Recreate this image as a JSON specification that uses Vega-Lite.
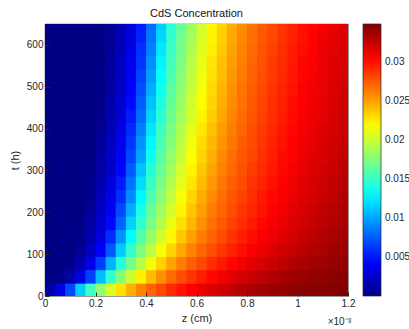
{
"$schema":"https://vega.github.io/schema/vega-lite/v6.json",
"width":303,"height":272,
"autosize":"none",
"padding":{"left":45,"top":24,"right":61,"bottom":33},
"config":{"font":"Liberation Sans","view":{"stroke":"#262626","strokeWidth":0.7},
"axis":{"domain":false,"grid":false,"labelFontSize":10,"labelColor":"#262626","titleFontSize":11,"titleFontWeight":"normal","titleColor":"#262626","tickColor":"#262626","tickSize":-4,"labelPadding":6,"labelFlush":false}},
"title":{"text":"CdS Concentration","fontSize":11,"fontWeight":"normal","color":"#111","offset":5},
"datasets":{"grid":[
{"z":0.02,"t":16,"c":0.0013},{"z":0.06,"t":16,"c":0.0034},{"z":0.10,"t":16,"c":0.0068},{"z":0.14,"t":16,"c":0.0113},{"z":0.18,"t":16,"c":0.0152},{"z":0.22,"t":16,"c":0.0180},{"z":0.26,"t":16,"c":0.0204},{"z":0.30,"t":16,"c":0.0227},{"z":0.34,"t":16,"c":0.0244},{"z":0.38,"t":16,"c":0.0260},{"z":0.42,"t":16,"c":0.0271},{"z":0.46,"t":16,"c":0.0280},{"z":0.50,"t":16,"c":0.0290},{"z":0.54,"t":16,"c":0.0298},{"z":0.58,"t":16,"c":0.0305},{"z":0.62,"t":16,"c":0.0311},{"z":0.66,"t":16,"c":0.0316},{"z":0.70,"t":16,"c":0.0321},{"z":0.74,"t":16,"c":0.0326},{"z":0.78,"t":16,"c":0.0330},{"z":0.82,"t":16,"c":0.0334},{"z":0.86,"t":16,"c":0.0336},{"z":0.90,"t":16,"c":0.0339},{"z":0.94,"t":16,"c":0.0340},{"z":0.98,"t":16,"c":0.0342},{"z":1.02,"t":16,"c":0.0344},{"z":1.06,"t":16,"c":0.0345},{"z":1.10,"t":16,"c":0.0345},{"z":1.14,"t":16,"c":0.0346},{"z":1.18,"t":16,"c":0.0347},
{"z":0.02,"t":48,"c":0},{"z":0.06,"t":48,"c":0.0001},{"z":0.10,"t":48,"c":0.0013},{"z":0.14,"t":48,"c":0.0033},{"z":0.18,"t":48,"c":0.0065},{"z":0.22,"t":48,"c":0.0108},{"z":0.26,"t":48,"c":0.0148},{"z":0.30,"t":48,"c":0.0176},{"z":0.34,"t":48,"c":0.0200},{"z":0.38,"t":48,"c":0.0222},{"z":0.42,"t":48,"c":0.0240},{"z":0.46,"t":48,"c":0.0256},{"z":0.50,"t":48,"c":0.0268},{"z":0.54,"t":48,"c":0.0278},{"z":0.58,"t":48,"c":0.0287},{"z":0.62,"t":48,"c":0.0295},{"z":0.66,"t":48,"c":0.0302},{"z":0.70,"t":48,"c":0.0308},{"z":0.74,"t":48,"c":0.0314},{"z":0.78,"t":48,"c":0.0319},{"z":0.82,"t":48,"c":0.0323},{"z":0.86,"t":48,"c":0.0328},{"z":0.90,"t":48,"c":0.0332},{"z":0.94,"t":48,"c":0.0335},{"z":0.98,"t":48,"c":0.0337},{"z":1.02,"t":48,"c":0.0339},{"z":1.06,"t":48,"c":0.0341},{"z":1.10,"t":48,"c":0.0342},{"z":1.14,"t":48,"c":0.0344},{"z":1.18,"t":48,"c":0.0345},
{"z":0.02,"t":80,"c":0},{"z":0.06,"t":80,"c":0},{"z":0.10,"t":80,"c":0.0002},{"z":0.14,"t":80,"c":0.0015},{"z":0.18,"t":80,"c":0.0034},{"z":0.22,"t":80,"c":0.0064},{"z":0.26,"t":80,"c":0.0104},{"z":0.30,"t":80,"c":0.0143},{"z":0.34,"t":80,"c":0.0170},{"z":0.38,"t":80,"c":0.0193},{"z":0.42,"t":80,"c":0.0214},{"z":0.46,"t":80,"c":0.0233},{"z":0.50,"t":80,"c":0.0249},{"z":0.54,"t":80,"c":0.0262},{"z":0.58,"t":80,"c":0.0272},{"z":0.62,"t":80,"c":0.0280},{"z":0.66,"t":80,"c":0.0289},{"z":0.70,"t":80,"c":0.0296},{"z":0.74,"t":80,"c":0.0303},{"z":0.78,"t":80,"c":0.0308},{"z":0.82,"t":80,"c":0.0314},{"z":0.86,"t":80,"c":0.0318},{"z":0.90,"t":80,"c":0.0323},{"z":0.94,"t":80,"c":0.0327},{"z":0.98,"t":80,"c":0.0331},{"z":1.02,"t":80,"c":0.0334},{"z":1.06,"t":80,"c":0.0337},{"z":1.10,"t":80,"c":0.0338},{"z":1.14,"t":80,"c":0.0340},{"z":1.18,"t":80,"c":0.0341},
{"z":0.02,"t":112,"c":0},{"z":0.06,"t":112,"c":0},{"z":0.10,"t":112,"c":0},{"z":0.14,"t":112,"c":0.0006},{"z":0.18,"t":112,"c":0.0021},{"z":0.22,"t":112,"c":0.0041},{"z":0.26,"t":112,"c":0.0074},{"z":0.30,"t":112,"c":0.0113},{"z":0.34,"t":112,"c":0.0148},{"z":0.38,"t":112,"c":0.0173},{"z":0.42,"t":112,"c":0.0194},{"z":0.46,"t":112,"c":0.0214},{"z":0.50,"t":112,"c":0.0232},{"z":0.54,"t":112,"c":0.0247},{"z":0.58,"t":112,"c":0.0260},{"z":0.62,"t":112,"c":0.0270},{"z":0.66,"t":112,"c":0.0278},{"z":0.70,"t":112,"c":0.0286},{"z":0.74,"t":112,"c":0.0293},{"z":0.78,"t":112,"c":0.0300},{"z":0.82,"t":112,"c":0.0306},{"z":0.86,"t":112,"c":0.0311},{"z":0.90,"t":112,"c":0.0316},{"z":0.94,"t":112,"c":0.0320},{"z":0.98,"t":112,"c":0.0324},{"z":1.02,"t":112,"c":0.0328},{"z":1.06,"t":112,"c":0.0331},{"z":1.10,"t":112,"c":0.0334},{"z":1.14,"t":112,"c":0.0337},{"z":1.18,"t":112,"c":0.0338},
{"z":0.02,"t":144,"c":0},{"z":0.06,"t":144,"c":0},{"z":0.10,"t":144,"c":0},{"z":0.14,"t":144,"c":0.0002},{"z":0.18,"t":144,"c":0.0014},{"z":0.22,"t":144,"c":0.0031},{"z":0.26,"t":144,"c":0.0058},{"z":0.30,"t":144,"c":0.0094},{"z":0.34,"t":144,"c":0.0130},{"z":0.38,"t":144,"c":0.0159},{"z":0.42,"t":144,"c":0.0181},{"z":0.46,"t":144,"c":0.0201},{"z":0.50,"t":144,"c":0.0220},{"z":0.54,"t":144,"c":0.0236},{"z":0.58,"t":144,"c":0.0250},{"z":0.62,"t":144,"c":0.0262},{"z":0.66,"t":144,"c":0.0271},{"z":0.70,"t":144,"c":0.0279},{"z":0.74,"t":144,"c":0.0287},{"z":0.78,"t":144,"c":0.0294},{"z":0.82,"t":144,"c":0.0300},{"z":0.86,"t":144,"c":0.0306},{"z":0.90,"t":144,"c":0.0311},{"z":0.94,"t":144,"c":0.0315},{"z":0.98,"t":144,"c":0.0319},{"z":1.02,"t":144,"c":0.0323},{"z":1.06,"t":144,"c":0.0327},{"z":1.10,"t":144,"c":0.0331},{"z":1.14,"t":144,"c":0.0334},{"z":1.18,"t":144,"c":0.0336},
{"z":0.02,"t":176,"c":0},{"z":0.06,"t":176,"c":0},{"z":0.10,"t":176,"c":0},{"z":0.14,"t":176,"c":0.0001},{"z":0.18,"t":176,"c":0.0010},{"z":0.22,"t":176,"c":0.0025},{"z":0.26,"t":176,"c":0.0046},{"z":0.30,"t":176,"c":0.0077},{"z":0.34,"t":176,"c":0.0115},{"z":0.38,"t":176,"c":0.0147},{"z":0.42,"t":176,"c":0.0171},{"z":0.46,"t":176,"c":0.0191},{"z":0.50,"t":176,"c":0.0211},{"z":0.54,"t":176,"c":0.0228},{"z":0.58,"t":176,"c":0.0242},{"z":0.62,"t":176,"c":0.0255},{"z":0.66,"t":176,"c":0.0266},{"z":0.70,"t":176,"c":0.0274},{"z":0.74,"t":176,"c":0.0282},{"z":0.78,"t":176,"c":0.0289},{"z":0.82,"t":176,"c":0.0296},{"z":0.86,"t":176,"c":0.0302},{"z":0.90,"t":176,"c":0.0307},{"z":0.94,"t":176,"c":0.0312},{"z":0.98,"t":176,"c":0.0316},{"z":1.02,"t":176,"c":0.0320},{"z":1.06,"t":176,"c":0.0324},{"z":1.10,"t":176,"c":0.0328},{"z":1.14,"t":176,"c":0.0331},{"z":1.18,"t":176,"c":0.0334},
{"z":0.02,"t":208,"c":0},{"z":0.06,"t":208,"c":0},{"z":0.10,"t":208,"c":0},{"z":0.14,"t":208,"c":0},{"z":0.18,"t":208,"c":0.0007},{"z":0.22,"t":208,"c":0.0021},{"z":0.26,"t":208,"c":0.0039},{"z":0.30,"t":208,"c":0.0068},{"z":0.34,"t":208,"c":0.0103},{"z":0.38,"t":208,"c":0.0138},{"z":0.42,"t":208,"c":0.0164},{"z":0.46,"t":208,"c":0.0184},{"z":0.50,"t":208,"c":0.0203},{"z":0.54,"t":208,"c":0.0221},{"z":0.58,"t":208,"c":0.0237},{"z":0.62,"t":208,"c":0.0250},{"z":0.66,"t":208,"c":0.0262},{"z":0.70,"t":208,"c":0.0270},{"z":0.74,"t":208,"c":0.0278},{"z":0.78,"t":208,"c":0.0286},{"z":0.82,"t":208,"c":0.0292},{"z":0.86,"t":208,"c":0.0298},{"z":0.90,"t":208,"c":0.0304},{"z":0.94,"t":208,"c":0.0309},{"z":0.98,"t":208,"c":0.0314},{"z":1.02,"t":208,"c":0.0318},{"z":1.06,"t":208,"c":0.0322},{"z":1.10,"t":208,"c":0.0326},{"z":1.14,"t":208,"c":0.0329},{"z":1.18,"t":208,"c":0.0332},
{"z":0.02,"t":240,"c":0},{"z":0.06,"t":240,"c":0},{"z":0.10,"t":240,"c":0},{"z":0.14,"t":240,"c":0},{"z":0.18,"t":240,"c":0.0004},{"z":0.22,"t":240,"c":0.0017},{"z":0.26,"t":240,"c":0.0034},{"z":0.30,"t":240,"c":0.0059},{"z":0.34,"t":240,"c":0.0091},{"z":0.38,"t":240,"c":0.0128},{"z":0.42,"t":240,"c":0.0156},{"z":0.46,"t":240,"c":0.0177},{"z":0.50,"t":240,"c":0.0197},{"z":0.54,"t":240,"c":0.0215},{"z":0.58,"t":240,"c":0.0231},{"z":0.62,"t":240,"c":0.0245},{"z":0.66,"t":240,"c":0.0257},{"z":0.70,"t":240,"c":0.0267},{"z":0.74,"t":240,"c":0.0275},{"z":0.78,"t":240,"c":0.0282},{"z":0.82,"t":240,"c":0.0289},{"z":0.86,"t":240,"c":0.0296},{"z":0.90,"t":240,"c":0.0302},{"z":0.94,"t":240,"c":0.0307},{"z":0.98,"t":240,"c":0.0311},{"z":1.02,"t":240,"c":0.0316},{"z":1.06,"t":240,"c":0.0319},{"z":1.10,"t":240,"c":0.0323},{"z":1.14,"t":240,"c":0.0327},{"z":1.18,"t":240,"c":0.0330},
{"z":0.02,"t":272,"c":0},{"z":0.06,"t":272,"c":0},{"z":0.10,"t":272,"c":0},{"z":0.14,"t":272,"c":0},{"z":0.18,"t":272,"c":0.0003},{"z":0.22,"t":272,"c":0.0014},{"z":0.26,"t":272,"c":0.0029},{"z":0.30,"t":272,"c":0.0052},{"z":0.34,"t":272,"c":0.0083},{"z":0.38,"t":272,"c":0.0119},{"z":0.42,"t":272,"c":0.0149},{"z":0.46,"t":272,"c":0.0172},{"z":0.50,"t":272,"c":0.0191},{"z":0.54,"t":272,"c":0.0209},{"z":0.58,"t":272,"c":0.0226},{"z":0.62,"t":272,"c":0.0240},{"z":0.66,"t":272,"c":0.0253},{"z":0.70,"t":272,"c":0.0264},{"z":0.74,"t":272,"c":0.0272},{"z":0.78,"t":272,"c":0.0279},{"z":0.82,"t":272,"c":0.0287},{"z":0.86,"t":272,"c":0.0293},{"z":0.90,"t":272,"c":0.0299},{"z":0.94,"t":272,"c":0.0305},{"z":0.98,"t":272,"c":0.0309},{"z":1.02,"t":272,"c":0.0314},{"z":1.06,"t":272,"c":0.0318},{"z":1.10,"t":272,"c":0.0321},{"z":1.14,"t":272,"c":0.0325},{"z":1.18,"t":272,"c":0.0328},
{"z":0.02,"t":304,"c":0},{"z":0.06,"t":304,"c":0},{"z":0.10,"t":304,"c":0},{"z":0.14,"t":304,"c":0},{"z":0.18,"t":304,"c":0.0001},{"z":0.22,"t":304,"c":0.0011},{"z":0.26,"t":304,"c":0.0025},{"z":0.30,"t":304,"c":0.0045},{"z":0.34,"t":304,"c":0.0075},{"z":0.38,"t":304,"c":0.0110},{"z":0.42,"t":304,"c":0.0143},{"z":0.46,"t":304,"c":0.0166},{"z":0.50,"t":304,"c":0.0185},{"z":0.54,"t":304,"c":0.0204},{"z":0.58,"t":304,"c":0.0221},{"z":0.62,"t":304,"c":0.0236},{"z":0.66,"t":304,"c":0.0249},{"z":0.70,"t":304,"c":0.0260},{"z":0.74,"t":304,"c":0.0269},{"z":0.78,"t":304,"c":0.0277},{"z":0.82,"t":304,"c":0.0284},{"z":0.86,"t":304,"c":0.0290},{"z":0.90,"t":304,"c":0.0296},{"z":0.94,"t":304,"c":0.0302},{"z":0.98,"t":304,"c":0.0307},{"z":1.02,"t":304,"c":0.0312},{"z":1.06,"t":304,"c":0.0316},{"z":1.10,"t":304,"c":0.0320},{"z":1.14,"t":304,"c":0.0323},{"z":1.18,"t":304,"c":0.0327},
{"z":0.02,"t":336,"c":0},{"z":0.06,"t":336,"c":0},{"z":0.10,"t":336,"c":0},{"z":0.14,"t":336,"c":0},{"z":0.18,"t":336,"c":0},{"z":0.22,"t":336,"c":0.0009},{"z":0.26,"t":336,"c":0.0022},{"z":0.30,"t":336,"c":0.0040},{"z":0.34,"t":336,"c":0.0068},{"z":0.38,"t":336,"c":0.0099},{"z":0.42,"t":336,"c":0.0135},{"z":0.46,"t":336,"c":0.0161},{"z":0.50,"t":336,"c":0.0181},{"z":0.54,"t":336,"c":0.0199},{"z":0.58,"t":336,"c":0.0217},{"z":0.62,"t":336,"c":0.0232},{"z":0.66,"t":336,"c":0.0245},{"z":0.70,"t":336,"c":0.0257},{"z":0.74,"t":336,"c":0.0267},{"z":0.78,"t":336,"c":0.0275},{"z":0.82,"t":336,"c":0.0281},{"z":0.86,"t":336,"c":0.0288},{"z":0.90,"t":336,"c":0.0295},{"z":0.94,"t":336,"c":0.0301},{"z":0.98,"t":336,"c":0.0305},{"z":1.02,"t":336,"c":0.0310},{"z":1.06,"t":336,"c":0.0315},{"z":1.10,"t":336,"c":0.0318},{"z":1.14,"t":336,"c":0.0322},{"z":1.18,"t":336,"c":0.0326},
{"z":0.02,"t":368,"c":0},{"z":0.06,"t":368,"c":0},{"z":0.10,"t":368,"c":0},{"z":0.14,"t":368,"c":0},{"z":0.18,"t":368,"c":0},{"z":0.22,"t":368,"c":0.0007},{"z":0.26,"t":368,"c":0.0020},{"z":0.30,"t":368,"c":0.0036},{"z":0.34,"t":368,"c":0.0062},{"z":0.38,"t":368,"c":0.0094},{"z":0.42,"t":368,"c":0.0128},{"z":0.46,"t":368,"c":0.0156},{"z":0.50,"t":368,"c":0.0176},{"z":0.54,"t":368,"c":0.0195},{"z":0.58,"t":368,"c":0.0213},{"z":0.62,"t":368,"c":0.0229},{"z":0.66,"t":368,"c":0.0242},{"z":0.70,"t":368,"c":0.0254},{"z":0.74,"t":368,"c":0.0264},{"z":0.78,"t":368,"c":0.0273},{"z":0.82,"t":368,"c":0.0279},{"z":0.86,"t":368,"c":0.0286},{"z":0.90,"t":368,"c":0.0293},{"z":0.94,"t":368,"c":0.0299},{"z":0.98,"t":368,"c":0.0304},{"z":1.02,"t":368,"c":0.0309},{"z":1.06,"t":368,"c":0.0313},{"z":1.10,"t":368,"c":0.0317},{"z":1.14,"t":368,"c":0.0321},{"z":1.18,"t":368,"c":0.0324},
{"z":0.02,"t":400,"c":0},{"z":0.06,"t":400,"c":0},{"z":0.10,"t":400,"c":0},{"z":0.14,"t":400,"c":0},{"z":0.18,"t":400,"c":0},{"z":0.22,"t":400,"c":0.0005},{"z":0.26,"t":400,"c":0.0017},{"z":0.30,"t":400,"c":0.0033},{"z":0.34,"t":400,"c":0.0057},{"z":0.38,"t":400,"c":0.0086},{"z":0.42,"t":400,"c":0.0122},{"z":0.46,"t":400,"c":0.0151},{"z":0.50,"t":400,"c":0.0172},{"z":0.54,"t":400,"c":0.0191},{"z":0.58,"t":400,"c":0.0209},{"z":0.62,"t":400,"c":0.0225},{"z":0.66,"t":400,"c":0.0239},{"z":0.70,"t":400,"c":0.0251},{"z":0.74,"t":400,"c":0.0262},{"z":0.78,"t":400,"c":0.0270},{"z":0.82,"t":400,"c":0.0278},{"z":0.86,"t":400,"c":0.0285},{"z":0.90,"t":400,"c":0.0291},{"z":0.94,"t":400,"c":0.0297},{"z":0.98,"t":400,"c":0.0302},{"z":1.02,"t":400,"c":0.0307},{"z":1.06,"t":400,"c":0.0312},{"z":1.10,"t":400,"c":0.0316},{"z":1.14,"t":400,"c":0.0319},{"z":1.18,"t":400,"c":0.0323},
{"z":0.02,"t":432,"c":0},{"z":0.06,"t":432,"c":0},{"z":0.10,"t":432,"c":0},{"z":0.14,"t":432,"c":0},{"z":0.18,"t":432,"c":0},{"z":0.22,"t":432,"c":0.0003},{"z":0.26,"t":432,"c":0.0015},{"z":0.30,"t":432,"c":0.0029},{"z":0.34,"t":432,"c":0.0052},{"z":0.38,"t":432,"c":0.0080},{"z":0.42,"t":432,"c":0.0115},{"z":0.46,"t":432,"c":0.0145},{"z":0.50,"t":432,"c":0.0168},{"z":0.54,"t":432,"c":0.0186},{"z":0.58,"t":432,"c":0.0204},{"z":0.62,"t":432,"c":0.0221},{"z":0.66,"t":432,"c":0.0235},{"z":0.70,"t":432,"c":0.0248},{"z":0.74,"t":432,"c":0.0259},{"z":0.78,"t":432,"c":0.0268},{"z":0.82,"t":432,"c":0.0276},{"z":0.86,"t":432,"c":0.0282},{"z":0.90,"t":432,"c":0.0289},{"z":0.94,"t":432,"c":0.0295},{"z":0.98,"t":432,"c":0.0301},{"z":1.02,"t":432,"c":0.0306},{"z":1.06,"t":432,"c":0.0310},{"z":1.10,"t":432,"c":0.0314},{"z":1.14,"t":432,"c":0.0318},{"z":1.18,"t":432,"c":0.0322},
{"z":0.02,"t":464,"c":0},{"z":0.06,"t":464,"c":0},{"z":0.10,"t":464,"c":0},{"z":0.14,"t":464,"c":0},{"z":0.18,"t":464,"c":0},{"z":0.22,"t":464,"c":0.0002},{"z":0.26,"t":464,"c":0.0013},{"z":0.30,"t":464,"c":0.0027},{"z":0.34,"t":464,"c":0.0046},{"z":0.38,"t":464,"c":0.0075},{"z":0.42,"t":464,"c":0.0109},{"z":0.46,"t":464,"c":0.0140},{"z":0.50,"t":464,"c":0.0165},{"z":0.54,"t":464,"c":0.0183},{"z":0.58,"t":464,"c":0.0201},{"z":0.62,"t":464,"c":0.0218},{"z":0.66,"t":464,"c":0.0232},{"z":0.70,"t":464,"c":0.0245},{"z":0.74,"t":464,"c":0.0257},{"z":0.78,"t":464,"c":0.0266},{"z":0.82,"t":464,"c":0.0274},{"z":0.86,"t":464,"c":0.0281},{"z":0.90,"t":464,"c":0.0288},{"z":0.94,"t":464,"c":0.0294},{"z":0.98,"t":464,"c":0.0300},{"z":1.02,"t":464,"c":0.0305},{"z":1.06,"t":464,"c":0.0309},{"z":1.10,"t":464,"c":0.0313},{"z":1.14,"t":464,"c":0.0317},{"z":1.18,"t":464,"c":0.0321},
{"z":0.02,"t":496,"c":0},{"z":0.06,"t":496,"c":0},{"z":0.10,"t":496,"c":0},{"z":0.14,"t":496,"c":0},{"z":0.18,"t":496,"c":0},{"z":0.22,"t":496,"c":0.0001},{"z":0.26,"t":496,"c":0.0011},{"z":0.30,"t":496,"c":0.0024},{"z":0.34,"t":496,"c":0.0043},{"z":0.38,"t":496,"c":0.0070},{"z":0.42,"t":496,"c":0.0103},{"z":0.46,"t":496,"c":0.0136},{"z":0.50,"t":496,"c":0.0161},{"z":0.54,"t":496,"c":0.0180},{"z":0.58,"t":496,"c":0.0198},{"z":0.62,"t":496,"c":0.0215},{"z":0.66,"t":496,"c":0.0230},{"z":0.70,"t":496,"c":0.0243},{"z":0.74,"t":496,"c":0.0255},{"z":0.78,"t":496,"c":0.0265},{"z":0.82,"t":496,"c":0.0273},{"z":0.86,"t":496,"c":0.0280},{"z":0.90,"t":496,"c":0.0287},{"z":0.94,"t":496,"c":0.0293},{"z":0.98,"t":496,"c":0.0298},{"z":1.02,"t":496,"c":0.0304},{"z":1.06,"t":496,"c":0.0308},{"z":1.10,"t":496,"c":0.0312},{"z":1.14,"t":496,"c":0.0316},{"z":1.18,"t":496,"c":0.0320},
{"z":0.02,"t":528,"c":0},{"z":0.06,"t":528,"c":0},{"z":0.10,"t":528,"c":0},{"z":0.14,"t":528,"c":0},{"z":0.18,"t":528,"c":0},{"z":0.22,"t":528,"c":0.0001},{"z":0.26,"t":528,"c":0.0009},{"z":0.30,"t":528,"c":0.0022},{"z":0.34,"t":528,"c":0.0039},{"z":0.38,"t":528,"c":0.0066},{"z":0.42,"t":528,"c":0.0097},{"z":0.46,"t":528,"c":0.0131},{"z":0.50,"t":528,"c":0.0157},{"z":0.54,"t":528,"c":0.0177},{"z":0.58,"t":528,"c":0.0195},{"z":0.62,"t":528,"c":0.0212},{"z":0.66,"t":528,"c":0.0228},{"z":0.70,"t":528,"c":0.0240},{"z":0.74,"t":528,"c":0.0253},{"z":0.78,"t":528,"c":0.0263},{"z":0.82,"t":528,"c":0.0271},{"z":0.86,"t":528,"c":0.0278},{"z":0.90,"t":528,"c":0.0285},{"z":0.94,"t":528,"c":0.0291},{"z":0.98,"t":528,"c":0.0297},{"z":1.02,"t":528,"c":0.0303},{"z":1.06,"t":528,"c":0.0307},{"z":1.10,"t":528,"c":0.0312},{"z":1.14,"t":528,"c":0.0316},{"z":1.18,"t":528,"c":0.0319},
{"z":0.02,"t":560,"c":0},{"z":0.06,"t":560,"c":0},{"z":0.10,"t":560,"c":0},{"z":0.14,"t":560,"c":0},{"z":0.18,"t":560,"c":0},{"z":0.22,"t":560,"c":0},{"z":0.26,"t":560,"c":0.0008},{"z":0.30,"t":560,"c":0.0021},{"z":0.34,"t":560,"c":0.0037},{"z":0.38,"t":560,"c":0.0062},{"z":0.42,"t":560,"c":0.0093},{"z":0.46,"t":560,"c":0.0127},{"z":0.50,"t":560,"c":0.0154},{"z":0.54,"t":560,"c":0.0174},{"z":0.58,"t":560,"c":0.0193},{"z":0.62,"t":560,"c":0.0210},{"z":0.66,"t":560,"c":0.0226},{"z":0.70,"t":560,"c":0.0239},{"z":0.74,"t":560,"c":0.0251},{"z":0.78,"t":560,"c":0.0262},{"z":0.82,"t":560,"c":0.0270},{"z":0.86,"t":560,"c":0.0277},{"z":0.90,"t":560,"c":0.0284},{"z":0.94,"t":560,"c":0.0290},{"z":0.98,"t":560,"c":0.0296},{"z":1.02,"t":560,"c":0.0302},{"z":1.06,"t":560,"c":0.0306},{"z":1.10,"t":560,"c":0.0311},{"z":1.14,"t":560,"c":0.0315},{"z":1.18,"t":560,"c":0.0318},
{"z":0.02,"t":592,"c":0},{"z":0.06,"t":592,"c":0},{"z":0.10,"t":592,"c":0},{"z":0.14,"t":592,"c":0},{"z":0.18,"t":592,"c":0},{"z":0.22,"t":592,"c":0},{"z":0.26,"t":592,"c":0.0006},{"z":0.30,"t":592,"c":0.0019},{"z":0.34,"t":592,"c":0.0034},{"z":0.38,"t":592,"c":0.0060},{"z":0.42,"t":592,"c":0.0087},{"z":0.46,"t":592,"c":0.0122},{"z":0.50,"t":592,"c":0.0150},{"z":0.54,"t":592,"c":0.0171},{"z":0.58,"t":592,"c":0.0189},{"z":0.62,"t":592,"c":0.0206},{"z":0.66,"t":592,"c":0.0223},{"z":0.70,"t":592,"c":0.0236},{"z":0.74,"t":592,"c":0.0249},{"z":0.78,"t":592,"c":0.0260},{"z":0.82,"t":592,"c":0.0268},{"z":0.86,"t":592,"c":0.0276},{"z":0.90,"t":592,"c":0.0282},{"z":0.94,"t":592,"c":0.0289},{"z":0.98,"t":592,"c":0.0295},{"z":1.02,"t":592,"c":0.0300},{"z":1.06,"t":592,"c":0.0305},{"z":1.10,"t":592,"c":0.0310},{"z":1.14,"t":592,"c":0.0314},{"z":1.18,"t":592,"c":0.0317},
{"z":0.02,"t":624,"c":0},{"z":0.06,"t":624,"c":0},{"z":0.10,"t":624,"c":0},{"z":0.14,"t":624,"c":0},{"z":0.18,"t":624,"c":0},{"z":0.22,"t":624,"c":0},{"z":0.26,"t":624,"c":0.0005},{"z":0.30,"t":624,"c":0.0018},{"z":0.34,"t":624,"c":0.0032},{"z":0.38,"t":624,"c":0.0055},{"z":0.42,"t":624,"c":0.0084},{"z":0.46,"t":624,"c":0.0117},{"z":0.50,"t":624,"c":0.0147},{"z":0.54,"t":624,"c":0.0169},{"z":0.58,"t":624,"c":0.0186},{"z":0.62,"t":624,"c":0.0204},{"z":0.66,"t":624,"c":0.0221},{"z":0.70,"t":624,"c":0.0234},{"z":0.74,"t":624,"c":0.0247},{"z":0.78,"t":624,"c":0.0258},{"z":0.82,"t":624,"c":0.0267},{"z":0.86,"t":624,"c":0.0274},{"z":0.90,"t":624,"c":0.0280},{"z":0.94,"t":624,"c":0.0287},{"z":0.98,"t":624,"c":0.0293},{"z":1.02,"t":624,"c":0.0299},{"z":1.06,"t":624,"c":0.0304},{"z":1.10,"t":624,"c":0.0309},{"z":1.14,"t":624,"c":0.0313},{"z":1.18,"t":624,"c":0.0316},
{"z":0.02,"t":656,"c":0},{"z":0.06,"t":656,"c":0},{"z":0.10,"t":656,"c":0},{"z":0.14,"t":656,"c":0},{"z":0.18,"t":656,"c":0},{"z":0.22,"t":656,"c":0},{"z":0.26,"t":656,"c":0.0004},{"z":0.30,"t":656,"c":0.0016},{"z":0.34,"t":656,"c":0.0030},{"z":0.38,"t":656,"c":0.0052},{"z":0.42,"t":656,"c":0.0080},{"z":0.46,"t":656,"c":0.0113},{"z":0.50,"t":656,"c":0.0144},{"z":0.54,"t":656,"c":0.0166},{"z":0.58,"t":656,"c":0.0184},{"z":0.62,"t":656,"c":0.0201},{"z":0.66,"t":656,"c":0.0219},{"z":0.70,"t":656,"c":0.0232},{"z":0.74,"t":656,"c":0.0245},{"z":0.78,"t":656,"c":0.0256},{"z":0.82,"t":656,"c":0.0265},{"z":0.86,"t":656,"c":0.0273},{"z":0.90,"t":656,"c":0.0279},{"z":0.94,"t":656,"c":0.0286},{"z":0.98,"t":656,"c":0.0292},{"z":1.02,"t":656,"c":0.0298},{"z":1.06,"t":656,"c":0.0303},{"z":1.10,"t":656,"c":0.0307},{"z":1.14,"t":656,"c":0.0312},{"z":1.18,"t":656,"c":0.0315}
]},
"layer":[
{"data":{"name":"grid"},
"mark":{"type":"rect","clip":true,"binSpacing":0,"strokeWidth":1},
"encoding":{
"x":{"field":"z","type":"quantitative","bin":{"step":0.04,"extent":[0,1.2]},"scale":{"domain":[0,1.2]},"title":"z (cm)","axis":{"values":[0,0.2,0.4,0.6,0.8,1,1.2],"format":".1~f","titlePadding":4}},
"y":{"field":"t","type":"quantitative","bin":{"step":32,"extent":[0,672]},"scale":{"domain":[0,645]},"title":"t (h)","axis":{"values":[0,100,200,300,400,500,600],"format":"d","titlePadding":6}},
"color":{"field":"c","type":"quantitative","scale":{"type":"linear","domain":[0,0.00435,0.01305,0.02175,0.03045,0.0348],"range":["#000085","#0000ff","#00ffff","#ffff00","#ff0000","#800000"],"interpolate":"rgb"},
"legend":{"type":"gradient","title":null,"orient":"right","offset":15,"padding":0,"gradientLength":272,"gradientThickness":18,"values":[0.005,0.01,0.015,0.02,0.025,0.03],"format":".3~f","labelFontSize":10,"labelColor":"#262626","labelOffset":4,"labelOverlap":false,"gradientStrokeColor":"#262626","gradientStrokeWidth":0.7}},
"stroke":{"field":"c","type":"quantitative","scale":{"type":"linear","domain":[0,0.0043501,0.0130501,0.0217501,0.0304501,0.0348001],"range":["#000085","#0000ff","#00ffff","#ffff00","#ff0000","#800000"],"interpolate":"rgb"},"legend":null}
}},
{"data":{"values":[{"label":"×10⁻³"}]},
"mark":{"type":"text","align":"right","baseline":"middle","dx":3,"dy":26,"fontSize":10,"color":"#262626"},
"encoding":{"x":{"datum":1.2},"y":{"datum":0},"text":{"field":"label"}}}
]
}
